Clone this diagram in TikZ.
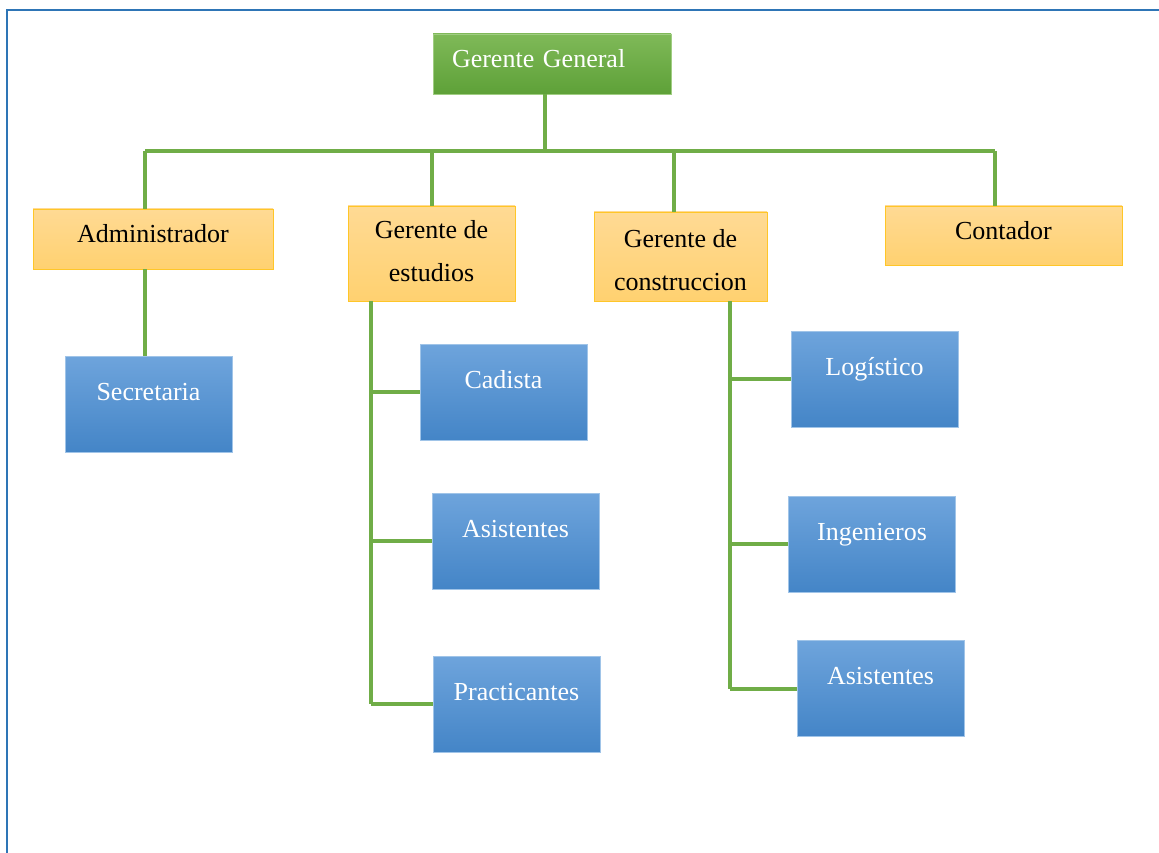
\documentclass[tikz,border=0pt]{standalone}
\usepackage{fontspec}
\setmainfont{Liberation Serif}
\usepackage{xcolor}
\usepackage{tikz}

\definecolor{linegreen}{RGB}{112,173,71}
\definecolor{ggtop}{RGB}{127,185,88}
\definecolor{ggbot}{RGB}{94,161,56}
\definecolor{ggborder}{RGB}{160,205,130}
\definecolor{ortop}{RGB}{255,218,148}
\definecolor{orbot}{RGB}{255,209,112}
\definecolor{orborder}{RGB}{255,198,40}
\definecolor{bltop}{RGB}{110,164,220}
\definecolor{blbot}{RGB}{68,133,199}
\definecolor{blborder}{RGB}{160,196,232}
\definecolor{framecol}{RGB}{46,117,182}

\tikzset{
  jefe/.style={draw=ggborder, top color=ggtop, bottom color=ggbot, text=white,
    inner sep=0pt, minimum width=238pt, text width=200pt, align=left,
    text height=34pt, text depth=26pt},
  gerente/.style={draw=orborder, top color=ortop, bottom color=orbot, text=black,
    inner sep=0pt, align=center},
  puesto/.style={draw=blborder, top color=bltop, bottom color=blbot, text=white,
    inner sep=0pt, minimum width=167pt, text height=44pt, text depth=52pt},
  enlace/.style={linegreen, line width=4pt},
}

\begin{document}
\begin{tikzpicture}[x=1pt,y=-1pt,font=\fontsize{26}{43}\selectfont]
\useasboundingbox (0,0) rectangle (1159,853);
\draw [framecol, line width=2pt] (1159,10) -- (7,10) -- (7,853) ;

% cargos
\node [jefe] (gg) at (552,64) {Gerente General};

\node [gerente, minimum width=240pt, text height=33pt, text depth=27pt] (adm) at (153,239) {Administrador};
\node [gerente, minimum width=167pt, text height=75pt, text depth=20pt] (est) at (431.5,253.5) {Gerente de\\estudios};
\node [gerente, minimum width=173pt, text height=78pt, text depth=11pt] (con) at (680.5,256.5) {Gerente de\\construccion};
\node [gerente, minimum width=237pt, text height=34pt, text depth=25pt] (cont) at (1003.5,235.5) {Contador};

\node [puesto] (sec) at (148.5,404) {Secretaria};
\node [puesto] (cad) at (503.5,392) {Cadista};
\node [puesto] (asi1) at (515.5,541) {Asistentes};
\node [puesto] (pra) at (516.5,704) {Practicantes};
\node [puesto] (log) at (874.5,379) {Logístico};
\node [puesto] (ing) at (872,544) {Ingenieros};
\node [puesto] (asi2) at (880.5,688.5) {Asistentes};

% barra principal
\coordinate (top) at (545,151) ;
\coordinate (bL) at (145,151) ;
\coordinate (bR) at (995,151) ;
\coordinate (bC) at (674,151) ;
\draw [enlace] (gg.south -| top) -- (top) ;
\draw [enlace] (bL) -- (bR) ;
\draw [enlace] (bL) -- (adm.north -| bL) ;
\draw [enlace] (est.north |- bL) -- (est.north) ;
\draw [enlace] (bC) -- (con.north -| bC) ;
\draw [enlace] (bR) -- (cont.north -| bR) ;

\draw [enlace] (adm.south -| bL) -- (sec.north -| bL) ;

% estudios
\coordinate (eX) at (371,0) ;
\draw [enlace] (est.south -| eX) -- (pra.west -| eX) ;
\draw [enlace] (cad.west -| eX) -- (cad.west) ;
\draw [enlace] (asi1.west -| eX) -- (asi1.west) ;
\draw [enlace] (pra.west -| eX) -- (pra.west) ;

% construccion
\coordinate (cX) at (730,0) ;
\draw [enlace] (con.south -| cX) -- (asi2.west -| cX) ;
\draw [enlace] (log.west -| cX) -- (log.west) ;
\draw [enlace] (ing.west -| cX) -- (ing.west) ;
\draw [enlace] (asi2.west -| cX) -- (asi2.west) ;

\end{tikzpicture}
\end{document}
